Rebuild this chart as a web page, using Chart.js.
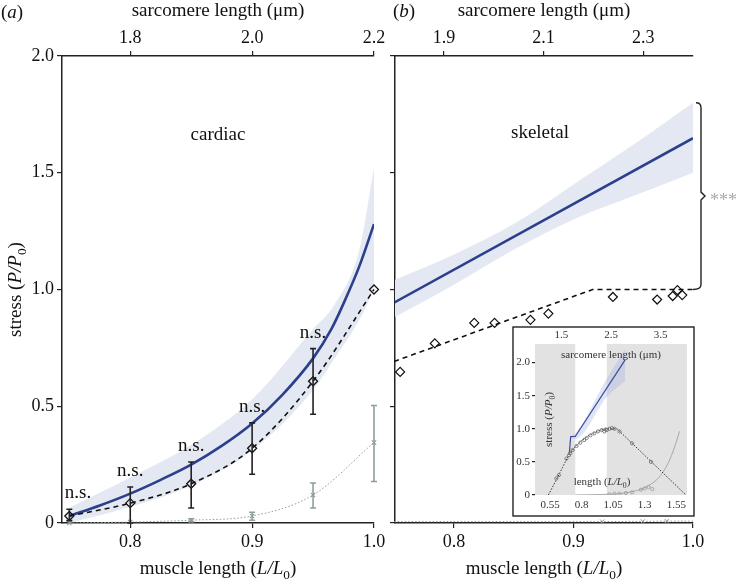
<!DOCTYPE html>
<html>
<head>
<meta charset="utf-8">
<script src="https://cdn.jsdelivr.net/npm/chart.js@4.4.1/dist/chart.umd.min.js"></script>
<style>
body { margin: 0; background: #fff; }
#wrap { position: relative; width: 738px; height: 585px; }
#wrap canvas { position: absolute; left: 0; top: 0; }
</style>
</head>
<body>
<div id="wrap">
  <canvas id="chartCardiac" width="738" height="585"></canvas>
  <canvas id="chartSkeletal" width="738" height="585"></canvas>
  <canvas id="chartInset" width="738" height="585"></canvas>
</div>
<script>
// 1. DATA

// (a) cardiac
const cardiacModelL = [0.75, 0.775, 0.8, 0.825, 0.85, 0.875, 0.9, 0.925, 0.95, 0.965, 0.975, 0.988, 1.0];
const cardiacModelStress = [0.03, 0.075, 0.126, 0.185, 0.25, 0.33, 0.426, 0.55, 0.705, 0.83, 0.94, 1.10, 1.28];
const cardiacBandL = [0.75, 0.8, 0.85, 0.9, 0.95, 0.967, 0.988, 1.0];
const cardiacBandLow = [0.0, 0.07, 0.16, 0.31, 0.57, 0.70, 0.87, 1.0];
const cardiacBandHigh = [0.065, 0.195, 0.335, 0.53, 0.83, 0.93, 1.17, 1.52];
const cardiacExpL = [0.75, 0.8, 0.85, 0.9, 0.95, 1.0];
const cardiacExpStress = [0.03, 0.085, 0.168, 0.32, 0.607, 1.0];
const cardiacExpErrLow = [0.01, 0.0, 0.064, 0.209, 0.466, null];
const cardiacExpErrHigh = [0.059, 0.154, 0.261, 0.429, 0.747, null];
const cardiacNsL = [0.75, 0.8, 0.85, 0.9, 0.95];
const cardiacPassiveL = [0.75, 0.8, 0.85, 0.9, 0.95, 1.0];
const cardiacPassiveStress = [0.0, 0.004, 0.012, 0.03, 0.12, 0.345];
const cardiacPassiveErrLow = [null, null, 0.006, 0.012, 0.064, 0.178];
const cardiacPassiveErrHigh = [null, null, 0.018, 0.046, 0.171, 0.503];

// (b) skeletal
const skeletalModelL = [0.75, 1.0];
const skeletalModelStress = [0.944, 1.648];
const skeletalBandL = [0.75, 0.8, 0.85, 0.9, 0.95, 1.0];
const skeletalBandLow = [0.88, 1.02, 1.17, 1.30, 1.40, 1.50];
const skeletalBandHigh = [1.04, 1.15, 1.28, 1.45, 1.62, 1.80];
const skeletalLineL = [0.75, 0.916, 1.0];
const skeletalLineStress = [0.692, 1.0, 1.0];
const skeletalExpL = [0.755, 0.784, 0.817, 0.834, 0.864, 0.879, 0.933, 0.970, 0.983, 0.987, 0.991];
const skeletalExpStress = [0.647, 0.769, 0.857, 0.857, 0.87, 0.897, 0.968, 0.957, 0.972, 0.997, 0.976];
const skeletalPassiveL = [0.75, 0.924, 0.958, 0.978, 1.0];
const skeletalPassiveStress = [0.006, 0.006, 0.007, 0.008, 0.008];
const skeletalPassiveMarks = [0, 3, 3, 3, 0];

// inset
const insetShadeRanges = [[0.43, 0.75], [1.0, 1.64]];
const insetModelL = [0.703, 0.714, 0.75, 1.145];
const insetModelStress = [0.637, 0.883, 0.883, 2.04];
const insetBandL = [0.714, 0.75, 1.0, 1.145];
const insetBandLow = [0.86, 0.85, 1.48, 1.72];
const insetBandHigh = [0.90, 0.93, 1.76, 2.2];
const insetActiveL = [0.537, 0.6, 0.65, 0.7, 0.75, 0.8, 0.85, 0.9, 0.95, 1.0, 1.08, 1.627];
const insetActiveStress = [0, 0.23, 0.42, 0.61, 0.73, 0.82, 0.89, 0.94, 0.98, 1.0, 1.0, 0];
const insetActivePtsL = [0.6, 0.62, 0.68, 0.7, 0.71, 0.73, 0.76, 0.79, 0.82, 0.84, 0.87, 0.9, 0.93, 0.96, 0.98, 0.99, 1.0, 1.02, 1.04, 1.06, 1.1, 1.2, 1.35];
const insetActivePtsStress = [0.25, 0.3, 0.55, 0.6, 0.63, 0.68, 0.74, 0.79, 0.83, 0.86, 0.9, 0.93, 0.96, 0.98, 0.96, 0.99, 0.98, 1.0, 1.01, 1.0, 0.96, 0.78, 0.5];
const insetPassiveL = [0.75, 0.9, 1.0, 1.1, 1.2, 1.3, 1.4, 1.45, 1.5, 1.55, 1.575];
const insetPassiveStress = [0, 0.005, 0.01, 0.02, 0.05, 0.11, 0.24, 0.36, 0.54, 0.8, 0.96];
const insetPassivePtsL = [1.02, 1.06, 1.1, 1.15, 1.2, 1.27, 1.3, 1.33, 1.36];
const insetPassivePtsStress = [0.01, 0.02, 0.02, 0.03, 0.04, 0.08, 0.1, 0.12, 0.09];

// ticks
const stressTicks = [0, 0.5, 1.0, 1.5, 2.0];
const stressTickLabels = ['0', '0.5', '1.0', '1.5', '2.0'];
const lengthTicks = [0.8, 0.9, 1.0];
const lengthTickLabels = ['0.8', '0.9', '1.0'];
const cardiacSarcTicks = [1.8, 2.0, 2.2];
const cardiacSarcTickLabels = ['1.8', '2.0', '2.2'];
const skeletalSarcTicks = [1.9, 2.1, 2.3];
const skeletalSarcTickLabels = ['1.9', '2.1', '2.3'];
const insetLTicks = [0.55, 0.8, 1.05, 1.3, 1.55];
const insetLTickLabels = ['0.55', '0.8', '1.05', '1.3', '1.55'];
const insetSarcTicks = [1.5, 2.5, 3.5];
const insetSarcTickLabels = ['1.5', '2.5', '3.5'];
const insetStressTicks = [0, 0.5, 1.0, 1.5, 2.0];
const insetStressTickLabels = ['0', '0.5', '1.0', '1.5', '2.0'];

// 2. HELPERS
const SERIF = '"Liberation Serif", "Times New Roman", serif';
const BLUE = '#2b3f8c';
const BAND = '#e4e8f2';
const PASSIVE = '#8f9e9a';

Chart.defaults.font.family = SERIF;
Chart.defaults.color = '#111';
Chart.defaults.animation = false;

const pts = (xs, ys) => xs.map((x, i) => ({ x: x, y: ys[i] }));

function fixedSize(size) {
    return scale => {
        if (scale.isHorizontal()) scale.height = size; else scale.width = size;
        scale.paddingLeft = 0; scale.paddingRight = 0;
        scale.paddingTop = 0; scale.paddingBottom = 0;
    };
}

function axis(o) {
    return {
        type: 'linear',
        position: o.position,
        min: o.min, max: o.max,
        afterBuildTicks: scale => { scale.ticks = o.ticks.map(v => ({ value: v })); },
        afterFit: fixedSize(o.size),
        ticks: {
            display: !!o.labels,
            autoSkip: false, maxRotation: 0,
            padding: o.pad !== undefined ? o.pad : 4,
            font: { size: o.fontSize || 18 },
            color: o.color || '#111',
            callback: (v, i) => o.labels ? o.labels[i] : ''
        },
        grid: { display: o.tickLen > 0, drawOnChartArea: false, drawTicks: o.tickLen > 0, tickLength: o.tickLen, color: '#222', lineWidth: 1.2 },
        border: { display: o.border !== false, color: '#222', width: 1.5 }
    };
}

function fontOf(size, italic) { return (italic ? 'italic ' : '') + size + 'px ' + SERIF; }

// parts: [text, style] with style '' | 'i' | 'sub'
function richText(ctx, parts, x, y, size, align) {
    const widths = parts.map(([t, s]) => {
        ctx.font = fontOf(s === 'sub' ? size * 0.7 : size, s === 'i');
        return ctx.measureText(t).width;
    });
    const total = widths.reduce((a, b) => a + b, 0);
    let cx = align === 'center' ? x - total / 2 : (align === 'right' ? x - total : x);
    ctx.textAlign = 'left';
    ctx.textBaseline = 'alphabetic';
    parts.forEach(([t, s], i) => {
        ctx.font = fontOf(s === 'sub' ? size * 0.7 : size, s === 'i');
        ctx.fillText(t, cx, y + (s === 'sub' ? size * 0.28 : 0));
        cx += widths[i];
    });
}

const muscleTitle = [['muscle length (', ''], ['L/L', 'i'], ['0', 'sub'], [')', '']];
const stressTitle = [['stress (', ''], ['P/P', 'i'], ['0', 'sub'], [')', '']];
const sarcTitle = [['sarcomere length (μm)', '']];

function errorBars(ctx, chart, xs, lows, highs, color) {
    const sx = chart.scales.x, sy = chart.scales.y;
    ctx.save();
    ctx.strokeStyle = color;
    ctx.lineWidth = 1.6;
    xs.forEach((x, i) => {
        if (lows[i] === null) return;
        const px = sx.getPixelForValue(x);
        const y1 = sy.getPixelForValue(lows[i]), y2 = sy.getPixelForValue(highs[i]);
        ctx.beginPath();
        ctx.moveTo(px, y1); ctx.lineTo(px, y2);
        ctx.moveTo(px - 3, y1); ctx.lineTo(px + 3, y1);
        ctx.moveTo(px - 3, y2); ctx.lineTo(px + 3, y2);
        ctx.stroke();
    });
    ctx.restore();
}

function bandSets(xs, lows, highs, color) {
    return [
        { data: pts(xs, lows), borderWidth: 0, pointRadius: 0, fill: false, cubicInterpolationMode: 'monotone', order: 20 },
        { data: pts(xs, highs), borderWidth: 0, pointRadius: 0, fill: '-1', backgroundColor: color, cubicInterpolationMode: 'monotone', order: 20 }
    ];
}

// 3. CARDIAC PANEL (a)
const cardiacLabels = {
    id: 'cardiacLabels',
    afterDatasetsDraw(chart) {
        const ctx = chart.ctx, a = chart.chartArea;
        errorBars(ctx, chart, cardiacPassiveL, cardiacPassiveErrLow, cardiacPassiveErrHigh, PASSIVE);
        errorBars(ctx, chart, cardiacExpL, cardiacExpErrLow, cardiacExpErrHigh, '#222');
        ctx.save();
        ctx.fillStyle = '#111';
        ctx.font = fontOf(19);
        ctx.textAlign = 'center';
        cardiacNsL.forEach(l => {
            const i = cardiacExpL.indexOf(l);
            const px = Math.max(chart.scales.x.getPixelForValue(l), a.left + 16);
            ctx.fillText('n.s.', px, chart.scales.y.getPixelForValue(cardiacExpErrHigh[i]) - 11);
        });
        ctx.fillText('cardiac', (a.left + a.right) / 2, 140);
        ctx.restore();
    },
    afterDraw(chart) {
        const ctx = chart.ctx, a = chart.chartArea;
        ctx.save();
        ctx.fillStyle = '#111';
        richText(ctx, [['(', ''], ['a', 'i'], [')', '']], 1, 18, 19, 'left');
        richText(ctx, sarcTitle, (a.left + a.right) / 2, 16, 19, 'center');
        richText(ctx, muscleTitle, (a.left + a.right) / 2, 574, 19, 'center');
        ctx.translate(21, (a.top + a.bottom) / 2);
        ctx.rotate(-Math.PI / 2);
        richText(ctx, stressTitle, 0, 0, 19, 'center');
        ctx.restore();
    }
};

new Chart(document.getElementById('chartCardiac'), {
    type: 'line',
    data: {
        datasets: [
            ...bandSets(cardiacBandL, cardiacBandLow, cardiacBandHigh, BAND),
            { data: pts(cardiacPassiveL, cardiacPassiveStress), borderColor: PASSIVE, borderWidth: 1, borderDash: [1.5, 2],
              pointStyle: 'crossRot', pointRadius: 3, pointBorderColor: PASSIVE, pointBorderWidth: 1.2,
              cubicInterpolationMode: 'monotone', clip: false, order: 5 },
            { data: pts(cardiacModelL, cardiacModelStress), borderColor: BLUE, borderWidth: 2.6, pointRadius: 0,
              cubicInterpolationMode: 'monotone', order: 3 },
            { data: pts(cardiacExpL, cardiacExpStress), borderColor: '#111', borderWidth: 1.6, borderDash: [5, 4],
              pointStyle: 'rectRot', pointRadius: 4.5, pointBorderColor: '#111', pointBorderWidth: 1.3,
              pointBackgroundColor: 'rgba(255,255,255,0)', cubicInterpolationMode: 'monotone', clip: false, order: 2 }
        ]
    },
    options: {
        responsive: false,
        devicePixelRatio: 1,
        layout: { padding: { left: 0, right: 738 - 374, top: 0, bottom: 0 } },
        plugins: { legend: { display: false }, tooltip: { enabled: false } },
        scales: {
            x: axis({ position: 'bottom', min: 0.744, max: 1.0, ticks: lengthTicks, labels: lengthTickLabels, size: 62, tickLen: 5, pad: 3 }),
            xTop: axis({ position: 'top', min: 1.688, max: 2.2, ticks: cardiacSarcTicks, labels: cardiacSarcTickLabels, size: 56, tickLen: 5, pad: 2 }),
            y: axis({ position: 'left', min: 0, max: 2, ticks: stressTicks, labels: stressTickLabels, size: 62, tickLen: 5, pad: 3 })
        }
    },
    plugins: [cardiacLabels]
});

// 4. SKELETAL PANEL (b)
const skeletalLabels = {
    id: 'skeletalLabels',
    afterDraw(chart) {
        const ctx = chart.ctx, a = chart.chartArea, sy = chart.scales.y;
        ctx.save();
        ctx.fillStyle = '#111';
        ctx.font = fontOf(19);
        ctx.textAlign = 'center';
        ctx.fillText('skeletal', (a.left + a.right) / 2 - 4, 138);
        richText(ctx, [['(', ''], ['b', 'i'], [')', '']], 393, 17, 19, 'left');
        richText(ctx, sarcTitle, (a.left + a.right) / 2, 16, 19, 'center');
        richText(ctx, muscleTitle, (a.left + a.right) / 2, 574, 19, 'center');

        // bracket between the model band top and the measured plateau
        const yTop = sy.getPixelForValue(skeletalBandHigh[skeletalBandHigh.length - 1]);
        const yBot = sy.getPixelForValue(skeletalLineStress[skeletalLineStress.length - 1]);
        const yMid = (yTop + yBot) / 2;
        const bx = a.right + 8;
        ctx.strokeStyle = '#222';
        ctx.lineWidth = 1.4;
        ctx.beginPath();
        ctx.moveTo(bx - 5, yTop);
        ctx.quadraticCurveTo(bx, yTop, bx, yTop + 5);
        ctx.lineTo(bx, yMid - 4);
        ctx.lineTo(bx + 4, yMid);
        ctx.lineTo(bx, yMid + 4);
        ctx.lineTo(bx, yBot - 5);
        ctx.quadraticCurveTo(bx, yBot, bx - 8, yBot);
        ctx.stroke();
        ctx.fillStyle = '#aaa';
        ctx.font = fontOf(18);
        ctx.textAlign = 'left';
        ctx.fillText('***', bx + 9, yMid + 10);
        ctx.restore();
    }
};

new Chart(document.getElementById('chartSkeletal'), {
    type: 'line',
    data: {
        datasets: [
            ...bandSets(skeletalBandL, skeletalBandLow, skeletalBandHigh, BAND),
            { data: pts(skeletalPassiveL, skeletalPassiveStress), borderColor: PASSIVE, borderWidth: 1, borderDash: [1.5, 2],
              pointStyle: 'crossRot', pointRadius: skeletalPassiveMarks, pointBorderColor: PASSIVE, pointBorderWidth: 1,
              clip: false, order: 5 },
            { data: pts(skeletalModelL, skeletalModelStress), borderColor: BLUE, borderWidth: 2.6, pointRadius: 0, order: 3 },
            { data: pts(skeletalLineL, skeletalLineStress), borderColor: '#111', borderWidth: 1.6, borderDash: [5, 4],
              pointRadius: 0, clip: false, order: 2 },
            { data: pts(skeletalExpL, skeletalExpStress), showLine: false, pointStyle: 'rectRot', pointRadius: 4.5,
              pointBorderColor: '#111', pointBorderWidth: 1.2, pointBackgroundColor: 'rgba(255,255,255,0)', clip: false, order: 1 }
        ]
    },
    options: {
        responsive: false,
        devicePixelRatio: 1,
        layout: { padding: { left: 390, right: 738 - 693, top: 0, bottom: 0 } },
        plugins: { legend: { display: false }, tooltip: { enabled: false } },
        scales: {
            x: axis({ position: 'bottom', min: 0.7507, max: 1.0, ticks: lengthTicks, labels: lengthTickLabels, size: 62, tickLen: 5, pad: 3 }),
            xTop: axis({ position: 'top', min: 1.8017, max: 2.4, ticks: skeletalSarcTicks, labels: skeletalSarcTickLabels, size: 56, tickLen: 5, pad: 2 }),
            y: axis({ position: 'left', min: 0, max: 2, ticks: stressTicks, labels: null, size: 5, tickLen: 5 })
        }
    },
    plugins: [skeletalLabels]
});

// 5. INSET (whole length range)
const insetDecor = {
    id: 'insetDecor',
    beforeDraw(chart) {
        const ctx = chart.ctx, a = chart.chartArea;
        ctx.save();
        ctx.fillStyle = '#fff';
        ctx.strokeStyle = '#111';
        ctx.lineWidth = 1.3;
        ctx.fillRect(a.left - 22, a.top - 17, a.right - a.left + 29, a.bottom - a.top + 38);
        ctx.strokeRect(a.left - 22, a.top - 17, a.right - a.left + 29, a.bottom - a.top + 38);
        ctx.restore();
    },
    beforeDatasetsDraw(chart) {
        const ctx = chart.ctx, a = chart.chartArea, sx = chart.scales.x;
        ctx.save();
        ctx.fillStyle = '#e2e2e2';
        insetShadeRanges.forEach(([l0, l1]) => {
            const x0 = Math.max(a.left, sx.getPixelForValue(l0));
            const x1 = Math.min(a.right, sx.getPixelForValue(l1));
            ctx.fillRect(x0, a.top, x1 - x0, a.bottom - a.top);
        });
        ctx.restore();
    },
    afterDatasetsDraw(chart) {
        const ctx = chart.ctx, a = chart.chartArea;
        ctx.save();
        ctx.fillStyle = '#333';
        richText(ctx, sarcTitle, (a.left + a.right) / 2, a.top + 14, 11, 'center');
        richText(ctx, [['length (', ''], ['L/L', 'i'], ['0', 'sub'], [')', '']], (a.left + a.right) / 2 - 9, a.bottom - 10, 11, 'center');
        ctx.translate(a.left + 17, (a.top + a.bottom) / 2);
        ctx.rotate(-Math.PI / 2);
        richText(ctx, stressTitle, 0, 0, 11, 'center');
        ctx.restore();
    }
};

new Chart(document.getElementById('chartInset'), {
    type: 'line',
    data: {
        datasets: [
            ...bandSets(insetBandL, insetBandLow, insetBandHigh, 'rgba(150,170,225,0.3)'),
            { data: pts(insetPassiveL, insetPassiveStress), borderColor: '#a0a0a0', borderWidth: 0.9, pointRadius: 0,
              cubicInterpolationMode: 'monotone', order: 6 },
            { data: pts(insetPassivePtsL, insetPassivePtsStress), showLine: false, pointRadius: 1.6,
              pointBorderColor: '#999', pointBorderWidth: 0.8, pointBackgroundColor: 'rgba(255,255,255,0)', order: 5 },
            { data: pts(insetActiveL, insetActiveStress), borderColor: '#333', borderWidth: 1, borderDash: [1.5, 1.5],
              pointRadius: 0, tension: 0, order: 4 },
            { data: pts(insetActivePtsL, insetActivePtsStress), showLine: false, pointRadius: 1.6,
              pointBorderColor: '#666', pointBorderWidth: 0.8, pointBackgroundColor: 'rgba(255,255,255,0)', order: 3 },
            { data: pts(insetModelL, insetModelStress), borderColor: '#3a4b94', borderWidth: 1.2, pointRadius: 0, order: 1 }
        ]
    },
    options: {
        responsive: false,
        devicePixelRatio: 1,
        layout: { padding: { left: 513, right: 738 - 687, top: 327, bottom: 585 - 516 } },
        plugins: { legend: { display: false }, tooltip: { enabled: false } },
        scales: {
            x: axis({ position: 'bottom', min: 0.431, max: 1.635, ticks: insetLTicks, labels: insetLTickLabels, size: 21, tickLen: 0, pad: 4, fontSize: 11, color: '#333', border: false }),
            xTop: axis({ position: 'top', min: 0.966, max: 4.03, ticks: insetSarcTicks, labels: insetSarcTickLabels, size: 17, tickLen: 0, pad: 2, fontSize: 11, color: '#333', border: false }),
            y: axis({ position: 'left', min: 0, max: 2.28, ticks: insetStressTicks, labels: insetStressTickLabels, size: 22, tickLen: 3, pad: 2, fontSize: 11, color: '#333', border: false })
        }
    },
    plugins: [insetDecor]
});
</script>
</body>
</html>
